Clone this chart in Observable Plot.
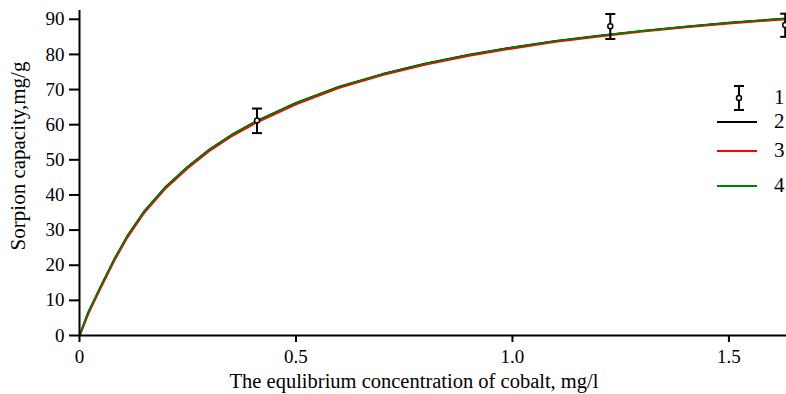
<!DOCTYPE html>
<html><head><meta charset="utf-8">
<script src="https://cdn.jsdelivr.net/npm/d3@7"></script>
<script src="https://cdn.jsdelivr.net/npm/@observablehq/plot@0.6"></script>
<style>
body{margin:0;background:#fff}
#wrap{position:relative;width:786px;height:394px;overflow:hidden;font-family:"Liberation Serif",serif}
#legend{position:absolute;left:0;top:0;width:786px;height:394px;pointer-events:none}
</style>
</head><body><div id="wrap"></div>
<script>
// Experimental points (series 1) with error bars
const expX = [0.41, 1.226, 1.63];
const expY = [61.2, 88.0, 88.4];
const expLo = [57.6, 84.4, 85.0];
const expHi = [64.6, 91.5, 91.6];

// Model curves (series 2, 3, 4)
const curveX  = [0, 0.02, 0.05, 0.08, 0.11, 0.15, 0.2, 0.25, 0.3, 0.35, 0.41, 0.5, 0.6, 0.7, 0.8, 0.9, 1.0, 1.1, 1.2, 1.3, 1.4, 1.5, 1.65];
const model2Y = [0, 6.5, 14.2, 21.6, 28.2, 35.4, 42.4, 48.0, 52.9, 57.0, 61.1, 66.2, 70.8, 74.4, 77.4, 79.9, 82.0, 83.8, 85.3, 86.7, 87.9, 89.0, 90.4];
const model3Y = [0, 6.3, 14.0, 21.4, 28.0, 35.2, 42.2, 47.8, 52.7, 56.8, 60.9, 66.0, 70.7, 74.3, 77.3, 79.8, 81.9, 83.8, 85.3, 86.7, 87.9, 89.0, 90.4];
const model4Y = [0, 6.5, 14.2, 21.6, 28.2, 35.4, 42.4, 48.0, 52.9, 57.0, 61.1, 66.2, 70.8, 74.4, 77.4, 79.9, 82.0, 83.8, 85.3, 86.7, 87.9, 89.0, 90.4];

const xTicks = [0, 0.5, 1.0, 1.5];
const xTickLabels = ["0", "0.5", "1.0", "1.5"];
const yTicks = [0, 10, 20, 30, 40, 50, 60, 70, 80, 90];
const xTitle = "The equlibrium concentration of cobalt, mg/l";
const yTitle = "Sorpion capacity,mg/g";
const legendLabels = ["1", "2", "3", "4"];
const seriesColors = ["#000000", "#000000", "#ff0000", "#008000"];

const exp = expX.map((x, i) => ({x, y: expY[i], lo: expLo[i], hi: expHi[i]}));
const mk = ys => curveX.map((x, i) => ({x, y: ys[i]}));

const capSymbol = {
  draw(ctx, size) {
    const r = Math.sqrt(size / Math.PI);
    ctx.moveTo(-r, 0); ctx.lineTo(r, 0);
  }
};

const plot = Plot.plot({
  width: 786, height: 394,
  marginLeft: 79, marginRight: 0, marginTop: 10, marginBottom: 59,
  style: {fontFamily: "Liberation Serif", fontSize: "19px", color: "#000", background: "#fff", overflow: "visible"},
  x: {domain: [0, 1.633]},
  y: {domain: [0, 92.5]},
  marks: [
    Plot.axisX({ticks: xTicks, tickFormat: d => xTickLabels[xTicks.indexOf(d)], tickSize: 7, tickPadding: 7, strokeWidth: 2, label: null, fontSize: 19}),
    Plot.axisY({ticks: yTicks, tickSize: 10, tickPadding: 5, strokeWidth: 2, label: null, fontSize: 19}),
    Plot.line(mk(model2Y), {x: "x", y: "y", stroke: seriesColors[1], strokeWidth: 2, clip: true}),
    Plot.line(mk(model3Y), {x: "x", y: "y", stroke: seriesColors[2], strokeWidth: 2, clip: true, dy: 0.7}),
    Plot.line(mk(model4Y), {x: "x", y: "y", stroke: seriesColors[3], strokeWidth: 1.6, clip: true}),
    Plot.ruleY([0], {strokeWidth: 2}),
    Plot.ruleX([0], {strokeWidth: 2}),
    Plot.ruleX(exp, {x: "x", y1: "lo", y2: "hi", strokeWidth: 2, stroke: "#000"}),
    Plot.dot(exp, {x: "x", y: "lo", symbol: capSymbol, r: 5, stroke: "#000", strokeWidth: 2}),
    Plot.dot(exp, {x: "x", y: "hi", symbol: capSymbol, r: 5, stroke: "#000", strokeWidth: 2}),
    Plot.dot(exp, {x: "x", y: "y", r: 2.5, stroke: "#000", fill: "#fff", strokeWidth: 1.5}),
    Plot.text([xTitle], {frameAnchor: "bottom", dx: -19, dy: 46, text: d => d, fontSize: 20.5, lineAnchor: "middle", textAnchor: "middle"}),
    Plot.text([yTitle], {frameAnchor: "left", dx: -61, dy: -17, rotate: -90, text: d => d, fontSize: 21, lineAnchor: "middle", textAnchor: "middle"})
  ]
});
const wrap = document.getElementById("wrap");
wrap.appendChild(plot);

// Legend overlay
const lg = d3.select(wrap).append("svg").attr("id", "legend").attr("width", 786).attr("height", 394);
const rowsY = [98, 122, 151, 186];
legendLabels.forEach((lab, i) => {
  const y = rowsY[i];
  if (i === 0) {
    lg.append("line").attr("x1", 739).attr("x2", 739).attr("y1", 86).attr("y2", 110).attr("stroke", "#000").attr("stroke-width", 2);
    lg.append("line").attr("x1", 734).attr("x2", 744).attr("y1", 86).attr("y2", 86).attr("stroke", "#000").attr("stroke-width", 2);
    lg.append("line").attr("x1", 734).attr("x2", 744).attr("y1", 110).attr("y2", 110).attr("stroke", "#000").attr("stroke-width", 2);
    lg.append("circle").attr("cx", 739).attr("cy", 98).attr("r", 2.5).attr("fill", "#fff").attr("stroke", "#000").attr("stroke-width", 1.5);
  } else {
    lg.append("line").attr("x1", 717).attr("x2", 757).attr("y1", y).attr("y2", y).attr("stroke", seriesColors[i]).attr("stroke-width", 2);
  }
  lg.append("text").attr("x", 774).attr("y", y + 1).attr("dominant-baseline", "middle").attr("font-size", 21).attr("font-family", "Liberation Serif").text(lab);
});
</script>
</body></html>
